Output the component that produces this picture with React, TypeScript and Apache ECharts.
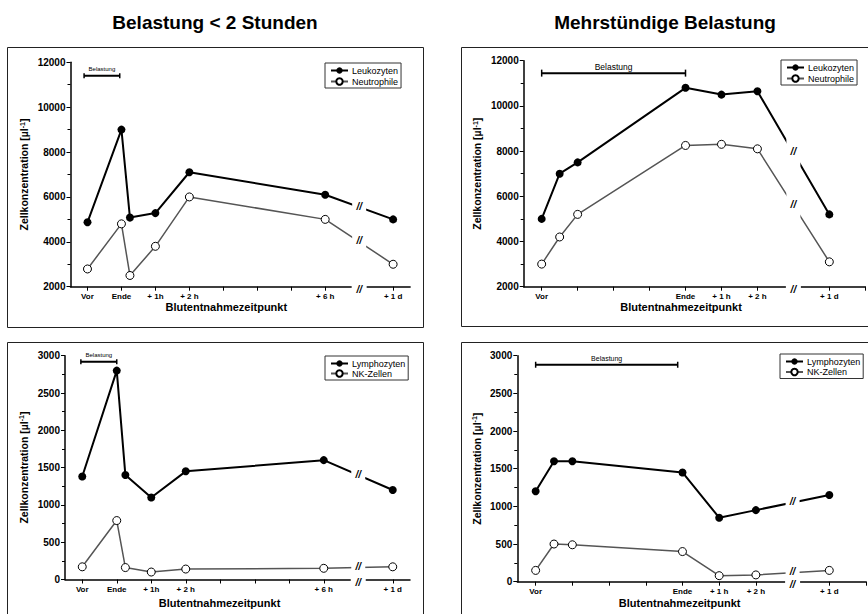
import React, { useEffect, useRef } from 'react';
import * as echarts from 'echarts';

const FONT = '"Liberation Sans", Arial, Helvetica, sans-serif';

const titleLeft = 'Belastung < 2 Stunden';
const titleRight = 'Mehrstündige Belastung';
const yAxisName = 'Zellkonzentration [µl{sup|-1}]';
const xAxisName = 'Blutentnahmezeitpunkt';
const belastungLabel = 'Belastung';

// x positions in hours relative to the end of exercise; "+ 1 d" sits behind the axis break
const timesShort = [-1, 0, 0.25, 1, 2, 6, 8];
const timesLong = [0, 0.5, 1, 4, 5, 6, 8];
const tickValuesShort = [-1, 0, 1, 2, 3, 4, 5, 6, 8];
const tickValuesLong = [0, 1, 2, 3, 4, 5, 6, 8, 9];
const labelValuesShort = [-1, 0, 1, 2, 6, 8];
const labelTextsShort = ['Vor', 'Ende', '+ 1h', '+ 2 h', '+ 6 h', '+ 1 d'];
const labelValuesLong = [0, 4, 5, 6, 8];
const labelTextsLong = ['Vor', 'Ende', '+ 1 h', '+ 2 h', '+ 1 d'];
const axisBreakAt = 7;

// cell concentrations [µl^-1]
const leukozytenShort = [4870, 9000, 5080, 5280, 7100, 6100, 5000];
const neutrophileShort = [2790, 4800, 2500, 3800, 6000, 5000, 3000];
const leukozytenLong = [5000, 7000, 7500, 10800, 10500, 10650, 5200];
const neutrophileLong = [3000, 4200, 5200, 8250, 8300, 8100, 3100];
const lymphozytenShort = [1380, 2800, 1400, 1100, 1450, 1600, 1200];
const nkZellenShort = [170, 790, 160, 100, 140, 150, 170];
const lymphozytenLong = [1200, 1600, 1600, 1450, 850, 950, 1150];
const nkZellenLong = [150, 500, 490, 400, 80, 90, 150];

// exercise bar: [start, end, level]
const belastungShortTop = [-1.1, -0.05, 11400];
const belastungLongTop = [0, 4, 11450];
const belastungShortBottom = [-1.04, 0, 2920];
const belastungLongBottom = [0, 3.87, 2880];

const panels = [
  {
    xs: timesShort, ticks: tickValuesShort, labelValues: labelValuesShort, labelTexts: labelTextsShort,
    lines: [{ name: 'Leukozyten', values: leukozytenShort }, { name: 'Neutrophile', values: neutrophileShort }],
    bel: belastungShortTop,
  },
  {
    xs: timesLong, ticks: tickValuesLong, labelValues: labelValuesLong, labelTexts: labelTextsLong,
    lines: [{ name: 'Leukozyten', values: leukozytenLong }, { name: 'Neutrophile', values: neutrophileLong }],
    bel: belastungLongTop,
  },
  {
    xs: timesShort, ticks: tickValuesShort, labelValues: labelValuesShort, labelTexts: labelTextsShort,
    lines: [{ name: 'Lymphozyten', values: lymphozytenShort }, { name: 'NK-Zellen', values: nkZellenShort }],
    bel: belastungShortBottom,
  },
  {
    xs: timesLong, ticks: tickValuesLong, labelValues: labelValuesLong, labelTexts: labelTextsLong,
    lines: [{ name: 'Lymphozyten', values: lymphozytenLong }, { name: 'NK-Zellen', values: nkZellenLong }],
    bel: belastungLongBottom,
  },
];

const layouts = [
  { left: 70.5, top: 62.3, width: 339.6, height: 224.4, xMin: -1.5, xMax: 8.5, yMin: 2000, yMax: 12000, yStep: 2000,
    yNameGap: 41, xNameGap: 13, xNameShift: 28, legendLeft: 325, legendTop: 63, legendGap: 2, belFont: 6, capHalf: 2.5,
    box: [7, 47, 416, 280] },
  { left: 523.7, top: 60.7, width: 341.6, height: 226, xMin: -0.5, xMax: 9, yMin: 2000, yMax: 12000, yStep: 2000,
    yNameGap: 41, xNameGap: 13.5, xNameShift: 27, legendLeft: 781, legendTop: 60, legendGap: 2, belFont: 8.5, capHalf: 3.5,
    box: [461, 47, 430, 279] },
  { left: 65, top: 355.7, width: 345, height: 223.8, xMin: -1.5, xMax: 8.5, yMin: 0, yMax: 3000, yStep: 500,
    yNameGap: 36, xNameGap: 18, xNameShift: 36, legendLeft: 325, legendTop: 356, legendGap: 1, belFont: 6, capHalf: 2.5,
    box: [7, 342, 416, 300] },
  { left: 517.3, top: 355.7, width: 348.7, height: 226, xMin: -0.5, xMax: 9, yMin: 0, yMax: 3000, yStep: 500,
    yNameGap: 35, xNameGap: 16, xNameShift: 24, legendLeft: 780, legendTop: 354, legendGap: 1.5, belFont: 7, capHalf: 3,
    box: [461, 342, 430, 300] },
];

function slashText(x: number, y: number) {
  return {
    type: 'text', x, y,
    style: {
      text: '//', fill: '#000', fontSize: 10, fontWeight: 'bold', fontStyle: 'italic', fontFamily: FONT,
      align: 'center', verticalAlign: 'middle',
    },
  };
}

function buildOption() {
  const series: any[] = [];
  panels.forEach((p, i) => {
    const L = layouts[i];
    p.lines.forEach((ln, k) => {
      series.push({
        type: 'line', name: ln.name, xAxisIndex: i, yAxisIndex: i,
        data: p.xs.map((x, j) => [x, ln.values[j]]),
        symbol: 'circle', symbolSize: 8,
        lineStyle: k === 0 ? { color: '#000', width: 2 } : { color: '#555', width: 1.5 },
        itemStyle: k === 0 ? { color: '#000' } : { color: '#fff', borderColor: '#000', borderWidth: 1 },
        z: k === 0 ? 4 : 3,
        emphasis: { disabled: true },
        silent: true,
      });
    });
    series.push({
      type: 'custom', xAxisIndex: i, yAxisIndex: i, data: [p.bel], z: 5, silent: true,
      renderItem: (params: any, api: any) => {
        const s = api.value(0), e = api.value(1), lv = api.value(2);
        const a = api.coord([s, lv]);
        const b = api.coord([e, lv]);
        const ch = L.capHalf;
        return {
          type: 'group',
          children: [
            { type: 'line', shape: { x1: a[0], y1: a[1], x2: b[0], y2: b[1] }, style: { stroke: '#000', lineWidth: 2 } },
            { type: 'line', shape: { x1: a[0], y1: a[1] - ch, x2: a[0], y2: a[1] + ch }, style: { stroke: '#000', lineWidth: 1.5 } },
            { type: 'line', shape: { x1: b[0], y1: b[1] - ch, x2: b[0], y2: b[1] + ch }, style: { stroke: '#000', lineWidth: 1.5 } },
            {
              type: 'text', x: (a[0] + b[0]) / 2, y: a[1] - 6.5,
              style: { text: belastungLabel, fill: '#000', fontSize: L.belFont, fontFamily: FONT, align: 'center', verticalAlign: 'middle' },
            },
          ],
        };
      },
    });
    series.push({
      type: 'custom', xAxisIndex: i, yAxisIndex: i, data: [[axisBreakAt, L.yMin]], z: 6, silent: true,
      renderItem: (params: any, api: any) => {
        const xb = api.value(0);
        const base = api.coord([xb, L.yMin]);
        const children: any[] = [];
        p.lines.forEach((ln) => {
          let j = 0;
          while (j < p.xs.length - 2 && p.xs[j + 1] < xb) j++;
          const a = api.coord([p.xs[j], ln.values[j]]);
          const b = api.coord([p.xs[j + 1], ln.values[j + 1]]);
          const t = (base[0] - a[0]) / (b[0] - a[0]);
          const py = a[1] + t * (b[1] - a[1]);
          const slope = Math.abs((b[1] - a[1]) / (b[0] - a[0]));
          const w = 14;
          const h = slope * w + 6;
          children.push({ type: 'rect', shape: { x: base[0] - w / 2, y: py - h / 2, width: w, height: h }, style: { fill: '#fff' } });
          children.push(slashText(base[0], py - 1));
        });
        children.push({ type: 'rect', shape: { x: base[0] - 7.5, y: base[1] - 3, width: 15, height: 6 }, style: { fill: '#fff' } });
        children.push(slashText(base[0], base[1] + 2.5));
        return { type: 'group', children };
      },
    });
  });

  return {
    animation: false,
    backgroundColor: '#fff',
    textStyle: { fontFamily: FONT },
    grid: layouts.map((L) => ({ left: L.left, top: L.top, width: L.width, height: L.height, containLabel: false })),
    xAxis: layouts.map((L, i) => ({
      type: 'value', gridIndex: i, min: L.xMin, max: L.xMax,
      axisLine: { show: true, onZero: false, lineStyle: { color: '#000', width: 1.5 } },
      axisTick: { show: true, customValues: panels[i].ticks, length: 4, lineStyle: { color: '#000', width: 1 } },
      axisLabel: {
        customValues: panels[i].labelValues,
        formatter: (v: number) => {
          const idx = panels[i].labelValues.findIndex((lv) => Math.abs(lv - v) < 1e-6);
          return idx >= 0 ? panels[i].labelTexts[idx] : '';
        },
        fontSize: 8, fontWeight: 'bold', color: '#000', margin: 6, fontFamily: FONT,
      },
      splitLine: { show: false },
      name: xAxisName, nameLocation: 'middle', nameGap: L.xNameGap,
      nameTextStyle: { fontSize: 11, fontWeight: 'bold', color: '#000', fontFamily: FONT, padding: [0, L.xNameShift, 0, 0] },
    })),
    yAxis: layouts.map((L, i) => ({
      type: 'value', gridIndex: i, min: L.yMin, max: L.yMax, interval: L.yStep,
      axisLine: { show: true, onZero: false, lineStyle: { color: '#000', width: 1.5 } },
      axisTick: { show: true, length: 4, lineStyle: { color: '#000', width: 1 } },
      minorTick: { show: true, splitNumber: 2, length: 3, lineStyle: { color: '#000', width: 1 } },
      axisLabel: {
        fontSize: 10, fontWeight: 'bold', color: '#000', margin: 5, fontFamily: FONT,
        formatter: (v: number) => String(v),
      },
      splitLine: { show: false },
      name: yAxisName, nameLocation: 'middle', nameGap: L.yNameGap,
      nameTextStyle: {
        fontSize: 10.5, fontWeight: 'bold', color: '#000', fontFamily: FONT,
        rich: { sup: { fontSize: 7, fontWeight: 'bold', color: '#000', fontFamily: FONT, verticalAlign: 'top' } },
      },
    })),
    legend: layouts.map((L, i) => ({
      data: panels[i].lines.map((ln) => ln.name),
      orient: 'vertical', left: L.legendLeft, top: L.legendTop,
      itemWidth: 17, itemHeight: 8, itemGap: L.legendGap,
      padding: [3, 3, 2, 5],
      borderColor: '#333', borderWidth: 1, backgroundColor: '#fff',
      textStyle: { fontSize: 9, color: '#000', fontFamily: FONT, lineHeight: 9, padding: [0, 0, 0, -1] },
      selectedMode: false,
    })),
    graphic: [
      ...layouts.map((L) => ({
        type: 'rect', silent: true, z: -10,
        shape: { x: L.box[0] + 0.5, y: L.box[1] + 0.5, width: L.box[2], height: L.box[3] },
        style: { fill: 'none', stroke: '#222', lineWidth: 1 },
      })),
      {
        type: 'text', x: 215, y: 22, silent: true,
        style: { text: titleLeft, fill: '#000', fontSize: 19, fontWeight: 'bold', fontFamily: FONT, align: 'center', verticalAlign: 'middle' },
      },
      {
        type: 'text', x: 665, y: 22, silent: true,
        style: { text: titleRight, fill: '#000', fontSize: 19, fontWeight: 'bold', fontFamily: FONT, align: 'center', verticalAlign: 'middle' },
      },
    ],
    series,
  };
}

export default function App() {
  const ref = useRef<HTMLDivElement>(null);
  useEffect(() => {
    if (!ref.current) return;
    const chart = echarts.init(ref.current, null, { renderer: 'svg' });
    chart.setOption(buildOption() as any);
    return () => chart.dispose();
  }, []);
  return (
    <div
      ref={ref}
      style={{ position: 'absolute', left: 0, top: 0, width: 868, height: 614, background: '#fff', overflow: 'hidden' }}
    />
  );
}
